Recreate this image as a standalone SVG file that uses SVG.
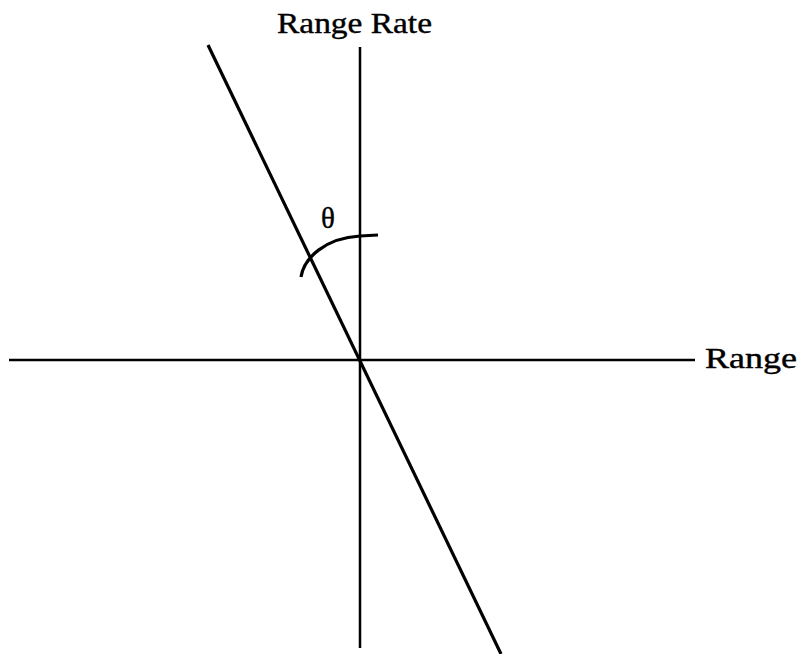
<svg xmlns="http://www.w3.org/2000/svg" width="798" height="654" viewBox="0 0 798 654">
<style>
.ax{stroke:#000;fill:none;stroke-linecap:butt}
.t{font-family:"Liberation Serif","Times New Roman",serif;font-size:29px;fill:#000;stroke:#000;stroke-width:0.4}
</style>
<rect width="798" height="654" fill="#fff"/>
<g id="connectors">
<line class="ax" x1="9" y1="360" x2="695" y2="360" stroke-width="2.5"/>
<line class="ax" x1="360" y1="47" x2="360" y2="648" stroke-width="2.5"/>
<line class="ax" x1="208" y1="45" x2="501" y2="654" stroke-width="3.2"/>
<path class="ax" d="M301,277 C304,258 325,238 360,236 L378,235" stroke-width="3.2"/>
</g>
<g id="label-range-rate"><text class="t" x="277" y="33" textLength="155" lengthAdjust="spacingAndGlyphs">Range Rate</text></g>
<g id="label-range"><text class="t" x="705" y="368" textLength="92" lengthAdjust="spacingAndGlyphs">Range</text></g>
<g id="label-theta"><text class="t" x="321" y="228" font-size="30">θ</text></g>
</svg>
